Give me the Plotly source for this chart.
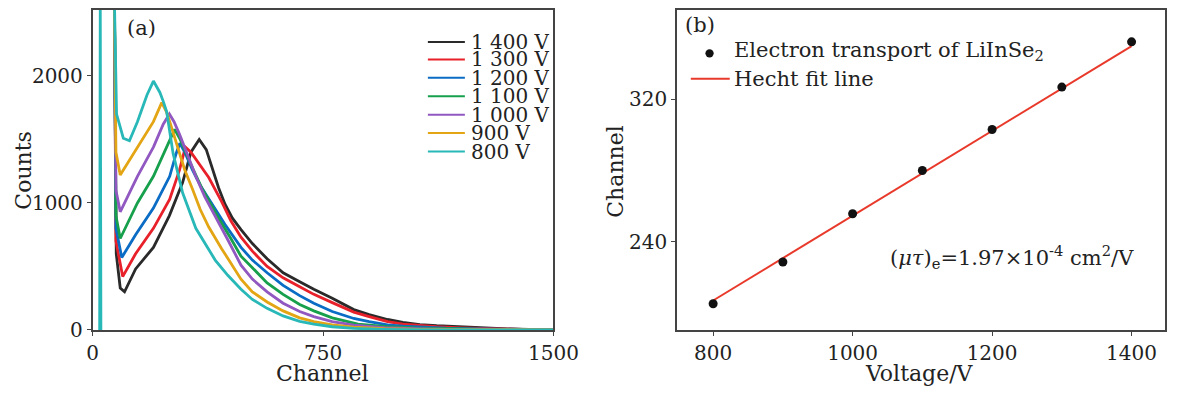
import plotly.graph_objects as go

W, H = 1184, 395
FONT = "DejaVu Serif, Liberation Serif, serif"

# ---------------- Panel (a): pulse-height spectra ----------------
voltages = ["1 400 V", "1 300 V", "1 200 V", "1 100 V", "1 000 V", "900 V", "800 V"]
colors = ["#2a2a2a", "#e8202a", "#0a6cc4", "#17a04c", "#9058c0", "#e3a514", "#28b8b8"]

ch_1400 = [71, 77, 90, 104, 140, 198, 250, 293, 320, 347, 370, 389, 410, 431, 455, 483, 520, 568,
           620, 674, 720, 780, 850, 900, 960, 1010, 1065, 1120, 1170, 1230, 1280, 1350, 1420, 1500]
cnt_1400 = [2600, 600, 330, 300, 480, 650, 900, 1160, 1400, 1500, 1420, 1270, 1120, 990, 880, 790, 680, 560,
            450, 380, 320, 250, 160, 120, 82, 60, 42, 33, 27, 20, 14, 8, 4, 2]

ch_1300 = [71, 76, 98, 140, 198, 251, 283, 302, 320, 340, 378, 420, 450, 483, 520, 568, 620, 674,
           720, 780, 850, 900, 960, 1010, 1065, 1120, 1200, 1280, 1350, 1420, 1500]
cnt_1300 = [2600, 700, 420, 600, 800, 1030, 1260, 1440, 1400, 1330, 1200, 1010, 860, 730, 620, 500, 410, 340,
            280, 215, 140, 105, 65, 45, 33, 25, 16, 10, 6, 3, 1]

ch_1200 = [71, 76, 95, 140, 198, 251, 272, 284, 300, 325, 350, 378, 431, 483, 520, 568, 620, 674,
           720, 780, 850, 900, 960, 1010, 1065, 1150, 1250, 1350, 1500]
cnt_1200 = [2600, 800, 570, 750, 960, 1210, 1390, 1470, 1400, 1260, 1140, 1030, 830, 650, 550, 450, 350, 270,
            210, 145, 90, 65, 40, 30, 22, 14, 8, 4, 1]

ch_1100 = [71, 76, 90, 146, 198, 241, 267, 285, 304, 330, 357, 410, 450, 483, 520, 568, 620, 674,
           720, 780, 864, 960, 1050, 1150, 1300, 1500]
cnt_1100 = [2600, 900, 720, 1000, 1210, 1440, 1580, 1500, 1390, 1250, 1110, 880, 720, 580, 490, 370, 280, 200,
            150, 95, 45, 25, 15, 8, 3, 1]

ch_1000 = [71, 76, 90, 146, 198, 230, 250, 265, 283, 310, 336, 365, 399, 440, 483, 520, 568, 620,
           674, 720, 780, 850, 950, 1050, 1200, 1500]
cnt_1000 = [2600, 1100, 930, 1210, 1440, 1620, 1700, 1640, 1540, 1370, 1210, 1050, 900, 710, 510, 400, 300, 210,
            145, 105, 66, 38, 18, 9, 3, 0]

ch_900 = [71, 76, 90, 146, 198, 225, 240, 251, 283, 300, 325, 350, 378, 420, 483, 520, 568, 620,
          674, 720, 780, 850, 950, 1100, 1500]
cnt_900 = [2600, 1400, 1220, 1440, 1640, 1790, 1720, 1640, 1390, 1260, 1110, 950, 810, 640, 400, 300, 220, 150,
           95, 65, 40, 22, 10, 3, 0]

# the 800 V spectrum also shows a narrow spike near channel 25 (separate segment)
ch_800 = [23, 25, 27, None, 71, 78, 100, 120, 146, 177, 198, 219, 230, 241, 262, 293, 336, 399, 440,
          483, 520, 568, 620, 674, 720, 780, 850, 950, 1100, 1500]
cnt_800 = [0, 2600, 0, None, 2600, 1700, 1510, 1490, 1640, 1850, 1960, 1870, 1800, 1720, 1390, 1080, 800, 550, 430,
           320, 240, 170, 110, 68, 45, 25, 12, 5, 1, 0]

spectra_ch = [ch_1400, ch_1300, ch_1200, ch_1100, ch_1000, ch_900, ch_800]
spectra_cnt = [cnt_1400, cnt_1300, cnt_1200, cnt_1100, cnt_1000, cnt_900, cnt_800]

# ---------------- Panel (b): peak channel vs voltage ----------------
bias_v = [800, 900, 1000, 1100, 1200, 1300, 1400]
peak_channel = [205.3, 228.7, 255.8, 280.1, 303.1, 326.9, 352.3]
fit_v = [800, 1400]
fit_channel = [207.1, 349.9]

fig = go.Figure()

for name, col, xs, ys in zip(voltages, colors, spectra_ch, spectra_cnt):
    fig.add_trace(go.Scatter(x=xs, y=ys, mode="lines", name=name,
                             line=dict(color=col, width=2.8), showlegend=False,
                             connectgaps=False, xaxis="x", yaxis="y"))

fig.add_trace(go.Scatter(x=fit_v, y=fit_channel, mode="lines", name="Hecht fit line",
                         line=dict(color="#e8392b", width=2), showlegend=False,
                         xaxis="x2", yaxis="y2"))
fig.add_trace(go.Scatter(x=bias_v, y=peak_channel, mode="markers",
                         name="Electron transport of LiInSe2",
                         marker=dict(color="#111111", size=9), showlegend=False,
                         xaxis="x2", yaxis="y2"))


def px(x):
    return x / W


def py(y):
    return 1 - y / H


axis_common = dict(showline=True, mirror=True, linecolor="#444444", linewidth=1.5,
                   ticks="outside", ticklen=4, tickwidth=1.2, tickcolor="#444444",
                   showgrid=False, zeroline=False,
                   tickfont=dict(family=FONT, size=20, color="#222222"))

fig.update_layout(
    width=W, height=H,
    margin=dict(l=0, r=0, t=0, b=0),
    paper_bgcolor="white", plot_bgcolor="white",
    font=dict(family=FONT, color="#222222"),
    xaxis=dict(domain=[px(80.7), px(554)], range=[0, 1500], tickvals=[0, 750, 1500],
               anchor="y", **axis_common),
    yaxis=dict(domain=[py(332), py(2)], range=[0, 2520], tickvals=[0, 1000, 2000],
               anchor="x", **axis_common),
    xaxis2=dict(domain=[px(680.7), px(1182)], range=[748, 1448], tickvals=[800, 1000, 1200, 1400],
                anchor="y2", **axis_common),
    yaxis2=dict(domain=[py(332), py(2)], range=[190.6, 370.2], tickvals=[240, 320],
                anchor="x2", **axis_common),
)

annotations = []
shapes = []


def label(text, x, y, size, angle=0, xanchor="center", yanchor="middle", height=None):
    ann = dict(text=text, x=px(x), y=py(y), xref="paper", yref="paper",
               xanchor=xanchor, yanchor=yanchor, textangle=angle,
               showarrow=False, font=dict(family=FONT, size=size, color="#222222"))
    if height is not None:
        ann["height"] = height
    annotations.append(ann)


# axis titles
label("Counts", 10, 167, 22, angle=-90)
label("Channel", 317, 377, 22)
label("Channel", 618, 168, 22, angle=-90)
label("Voltage/V", 930, 377, 22)

# panel labels
label("(a)", 131, 21, 21)
label("(b)", 704.5, 17.5, 21)

# legend (a) – tightly stacked rows as in the original
row_y = [35, 53, 72, 91, 110, 129, 148]
for name, col, yy in zip(voltages, colors, row_y):
    shapes.append(dict(type="line", xref="paper", yref="paper",
                       x0=px(425), x1=px(463), y0=py(yy), y1=py(yy),
                       line=dict(color=col, width=2)))
    label(name, 467, yy, 20, xanchor="left", height=18)

# legend (b)
shapes.append(dict(type="circle", xref="paper", yref="paper",
                   x0=px(710), x1=px(718.5), y0=py(42.5), y1=py(51),
                   fillcolor="#111111", line=dict(color="#111111", width=0)))
label("Electron transport of LiInSe<sub>2</sub>", 737, 44, 21, xanchor="left")
shapes.append(dict(type="line", xref="paper", yref="paper",
                   x0=px(695), x1=px(735), y0=py(73), y1=py(73),
                   line=dict(color="#e8392b", width=2)))
label("Hecht fit line", 737, 73.5, 21, xanchor="left")

# mu-tau annotation
label("(<i>μτ</i>)<sub>e</sub>=1.97×10<sup>-4</sup> cm<sup>2</sup>/V", 897, 257, 21, xanchor="left")

fig.update_layout(annotations=annotations, shapes=shapes)

fig.write_html("out.html")
